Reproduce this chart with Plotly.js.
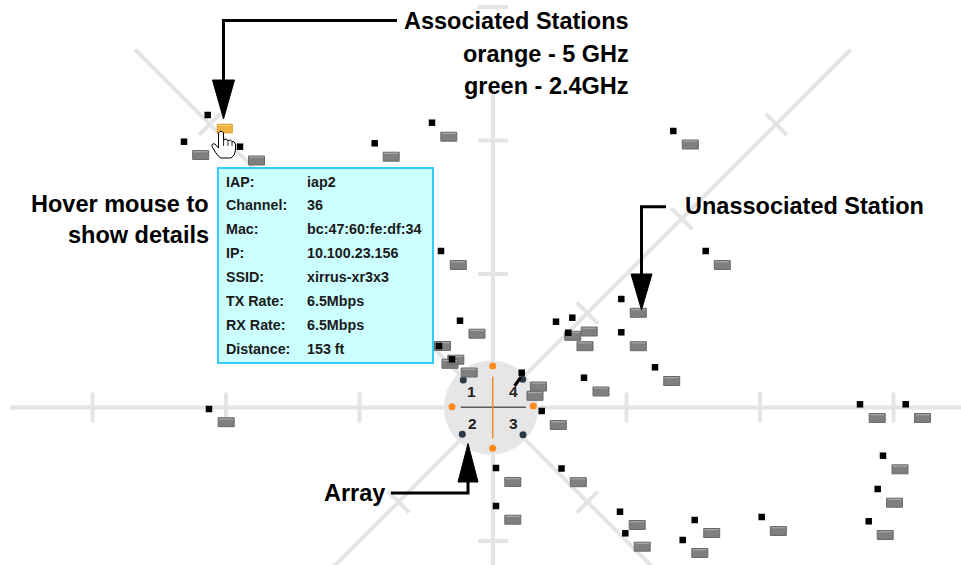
<!DOCTYPE html>
<html><head><meta charset="utf-8">
<script src="https://cdn.plot.ly/plotly-3.0.1.min.js"></script>
<style>html,body{margin:0;padding:0;background:#fff}#chart{width:961px;height:565px}</style>
</head><body><div id="chart"></div>
<script>
// ---------- data (screen coordinates) ----------
const markX = [207.7,184,240,374.7,432,673.3,705.7,441,621.3,460,556,572.3,568.3,621.3,655,584,439,452,521.7,541.7,209,860,905.7,883,877.7,868.7,496,561.5,496,620,625.3,694.7,682.7,761.7];
const markY = [115,141.7,146.7,143.3,122.7,131,251,251,299,320.7,321.7,317.7,332.7,332.3,367.3,377.7,346,359.3,372.7,411,409,404.3,404.3,455.7,489,521.3,468,468.5,506,511.7,533.3,520,540,517];
const stationX = [200.7,256.5,391.2,448.8,690.3,722.3,458.3,638.3,477,589.2,572.8,585,638.3,671.7,601,442.5,450,455.8,469.2,538.5,535,558.3,226.2,877.2,922.5,900,894.5,885.2,512.8,578.3,512.8,637.2,642.2,711.7,699.8,778.3];
const stationY = [155,160.5,156.7,136.7,144.5,265,265,312.8,333.7,331.5,335.8,346.2,346.2,381,391.5,346,363.8,359.7,372.5,386.5,395.8,425,422.2,418,418,469.3,502.7,535,482,482.2,519.7,525,546.7,533,553,531];
const assocX = [224.8];
const assocY = [128.5];
const sectorLabels = ["1","4","2","3"];
const sectorX = [471.7,513.3,472.7,513.3];
const sectorY = [391.7,391.7,423.3,423.3];
const radio5X = [492.7,452,533.3,492.7];
const radio5Y = [366,406.7,406,448.3];
const radio24X = [463.3,522.7,462.3,523];
const radio24Y = [380,379.3,434.3,434.7];
const tipLabels = ["IAP:","Channel:","Mac:","IP:","SSID:","TX Rate:","RX Rate:","Distance:"];
const tipValues = ["iap2","36","bc:47:60:fe:df:34","10.100.23.156","xirrus-xr3x3","6.5Mbps","6.5Mbps","153 ft"];
const tipRowY = [181.5,204.5,228.5,252.5,276.5,300.5,324.5,348.5];
const gridSteps = [1,2,3];

// ---------- geometry helpers ----------
const CX = 493, CY = 407.5, U = 133.5, TK = 15;
const GRID = '#e4e4e4';
const shapes = [];
function seg(x0,y0,x1,y1,color,w,layer){shapes.push({type:'line',xref:'x',yref:'y',x0,y0,x1,y1,layer:layer||'below',line:{color,width:w}});}
seg(10,CY,961,CY,GRID,4);
seg(CX,89,CX,565,GRID,4);
seg(135,49.5,CX+230,CY+230,GRID,4);
seg(851,49.5,CX-230,CY+230,GRID,4);
gridSteps.forEach(k=>{
  [-1,1].forEach(s=>{
    const x=CX+s*k*U; seg(x,CY-TK,x,CY+TK,GRID,4);
    const y=CY+s*k*U; seg(CX-TK,y,CX+TK,y,GRID,4);
  });
  [[-1,-1],[1,-1],[-1,1],[1,1]].forEach(([dx,dy])=>{
    const px=CX+dx*k*U/Math.SQRT2, py=CY+dy*k*U/Math.SQRT2;
    const ux=-dy/Math.SQRT2*TK, uy=dx/Math.SQRT2*TK;
    seg(px-ux,py-uy,px+ux,py+uy,GRID,4);
  });
});
shapes.push({type:'circle',xref:'x',yref:'y',x0:444,x1:538,y0:360.5,y1:454.5,fillcolor:'#e6e6e6',line:{width:0},layer:'below'});

function rects(xs,ys,w,h){
  const X=[],Y=[];
  xs.forEach((x,i)=>{const y=ys[i];
    X.push(x-w/2,x+w/2,x+w/2,x-w/2,x-w/2,null);
    Y.push(y-h/2,y-h/2,y+h/2,y+h/2,y-h/2,null);});
  return {X,Y};
}
function tops(xs,ys,w,h){
  const X=[],Y=[];
  xs.forEach((x,i)=>{const y=ys[i]-h/2+1.2;
    X.push(x-w/2+1,x+w/2-1,null); Y.push(y,y,null);});
  return {X,Y};
}
const gr = rects(stationX,stationY,16,9);
const gt = tops(stationX,stationY,16,9);
const orr = rects(assocX,assocY,15,8.5);
const ot = tops(assocX,assocY,15,8.5);

const traces = [
  {x:[460.7,526],y:[407.3,407.3],mode:'lines',line:{color:'#5a5a5a',width:1.5},hoverinfo:'skip'},
  {x:[492.7,492.7],y:[376.7,438.3],mode:'lines',line:{color:'#f08a2a',width:1.5},hoverinfo:'skip'},
  {x:radio5X,y:radio5Y,mode:'markers',marker:{symbol:'circle',size:7,color:'#ff8a1e'},hoverinfo:'skip'},
  {x:radio24X,y:radio24Y,mode:'markers',marker:{symbol:'circle',size:7,color:'#2b3847'},hoverinfo:'skip'},
  {x:gr.X,y:gr.Y,mode:'lines',fill:'toself',fillcolor:'#7f7f7f',line:{color:'#6a6a6a',width:1},connectgaps:false,hoverinfo:'skip'},
  {x:gt.X,y:gt.Y,mode:'lines',line:{color:'#a8a8a8',width:1.2},connectgaps:false,hoverinfo:'skip'},
  {x:orr.X,y:orr.Y,mode:'lines',fill:'toself',fillcolor:'#f2b440',line:{color:'#d8962a',width:1},hoverinfo:'skip'},
  {x:ot.X,y:ot.Y,mode:'lines',line:{color:'#f8d27a',width:1.2},hoverinfo:'skip'},
  {x:[514.5,521],y:[386,377],mode:'lines',line:{color:'#000',width:3},hoverinfo:'skip'},
  {x:markX,y:markY,mode:'markers',marker:{symbol:'square',size:6.5,color:'#000',line:{width:0}},hoverinfo:'skip'}
];

shapes.push({type:'rect',xref:'x',yref:'y',x0:218,x1:433,y0:168,y1:363,fillcolor:'#ccffff',line:{color:'#33ccff',width:2},layer:'above'});
shapes.push({type:'path',xref:'x',yref:'y',layer:'above',fillcolor:'#ffffff',line:{color:'#000',width:1},
  path:'M 218.5,141 L 218.5,133 Q 221,129.5 223.5,133 L 223.5,140 Q 226,138 228,140.5 Q 230.5,139 232,141.5 Q 234.5,141 235.5,144 L 235.5,150 Q 235,156 231,158 L 221,158 Q 218,156.5 216,153 L 212,146.5 Q 211.5,143 215,144 L 218.5,148 Z'});
shapes.push({type:'path',xref:'x',yref:'y',layer:'above',line:{color:'#000',width:0.8},path:'M 223.5,140 L 223.5,146 M 228,140.5 L 228,146 M 232,141.5 L 232,146'});
function arrowPath(d){shapes.push({type:'path',xref:'x',yref:'y',layer:'above',line:{color:'#000',width:3},path:d});}
function head(x,yb,yt,w){shapes.push({type:'path',xref:'x',yref:'y',layer:'above',fillcolor:'#000',line:{color:'#000',width:1},
  path:`M ${x-w/2},${yb} L ${x+w/2},${yb} L ${x},${yt} Z`});}
arrowPath('M 397,20.5 L 223.5,20.5 L 223.5,82');
head(223.5,80,119,22);
arrowPath('M 666,206.7 L 641.5,206.7 L 641.5,276');
head(641.5,274,310,21);
arrowPath('M 391,493 L 468,493 L 468,480');
head(468,482,443.5,20);

const BIG = {family:'Liberation Sans, Arial, sans-serif',size:23.5,color:'#000',weight:'bold'};
const ann = [];
function txt(text,x,y,xa,font){ann.push({text,x,y,xref:'x',yref:'y',xanchor:xa,yanchor:'middle',showarrow:false,font});}
txt('Associated Stations',631,21,'right',BIG);
txt('orange - 5 GHz',631,54,'right',BIG);
txt('green - 2.4GHz',631,86,'right',BIG);
txt('Hover mouse to',211,204,'right',BIG);
txt('show details',211,235,'right',BIG);
txt('Unassociated Station',683,206,'left',BIG);
txt('Array',387,493,'right',BIG);
const SMALL = {family:'Liberation Sans, Arial, sans-serif',size:14.3,color:'#1a1a1a',weight:'bold'};
tipLabels.forEach((t,i)=>{txt(t,224,tipRowY[i],'left',SMALL); txt(tipValues[i],305,tipRowY[i],'left',SMALL);});
const NUM = {family:'Liberation Sans, Arial, sans-serif',size:15.5,color:'#222222',weight:'bold'};
sectorLabels.forEach((t,i)=>txt(t,sectorX[i],sectorY[i],'center',NUM));

const layout = {
  width:961,height:565,margin:{l:0,r:0,t:0,b:0},
  paper_bgcolor:'#ffffff',plot_bgcolor:'#ffffff',showlegend:false,
  xaxis:{range:[0,961],visible:false,fixedrange:true},
  yaxis:{range:[565,0],visible:false,fixedrange:true},
  shapes,annotations:ann,hovermode:false
};
Plotly.newPlot('chart',traces,layout,{staticPlot:true,displayModeBar:false});
</script>
</body></html>
